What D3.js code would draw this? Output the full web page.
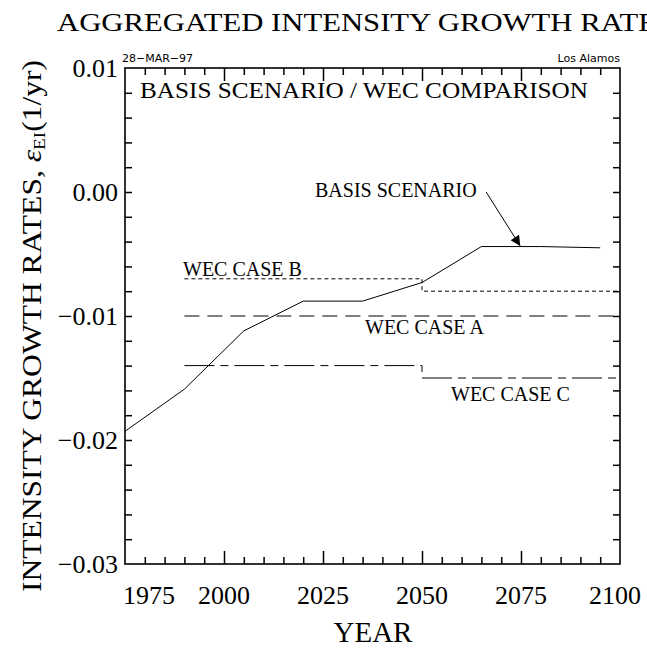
<!DOCTYPE html>
<html lang="en">
<head>
  <meta charset="UTF-8" />
  <title>Aggregated Intensity Growth Rates</title>
  <script src="https://d3js.org/d3.v7.min.js"></script>
  <style>
    body {
      margin: 0;
      padding: 0;
      background: #fff;
    }
    svg {
      display: block;
    }
    .serif {
      font-family: "Liberation Serif", "DejaVu Serif", serif;
      fill: #000;
    }
    .stamp {
      font-family: "DejaVu Sans", sans-serif;
      font-size: 11px;
      fill: #000;
    }
    .line {
      fill: none;
      stroke: #000;
      stroke-width: 1px;
    }
  </style>
</head>
<body>
  <svg width="647" height="648"></svg>
  <script>
    // basis scenario
    const years = [1975, 1990, 2005, 2020, 2035, 2050, 2065, 2080, 2095];
    const basis = [-0.0193, -0.0159, -0.0112, -0.0088, -0.0088, -0.0073, -0.0044, -0.0044, -0.0045];

    // WEC cases (step values)
    const wecYears = [1990, 2050, 2100];
    const caseA = [-0.0100, -0.0100, -0.0100];
    const caseB = [-0.0070, -0.0080, -0.0080];
    const caseC = [-0.0140, -0.0150, -0.0150];

    const xTickLabels = [1975, 2000, 2025, 2050, 2075, 2100];
    const yTickLabels = [0.01, 0.00, -0.01, -0.02, -0.03];

    const svg = d3.select("svg");
    const plot = { left: 125, right: 620, top: 68, bottom: 564 };

    const x = d3.scaleLinear().domain([1975, 2100]).range([plot.left, plot.right]);
    const y = d3.scaleLinear().domain([-0.03, 0.01]).range([plot.bottom, plot.top]);

    // frame
    svg.append("rect")
      .attr("x", plot.left).attr("y", plot.top)
      .attr("width", plot.right - plot.left).attr("height", plot.bottom - plot.top)
      .attr("fill", "none").attr("stroke", "#000").attr("stroke-width", 1.6);

    const minorX = d3.range(1980, 2100, 5).filter(d => d % 25 !== 0);
    const majorX = d3.range(2000, 2100, 25);
    const minorY = d3.range(-0.028, 0.0099, 0.002);

    function axisGroup(axis, transform) {
      const g = svg.append("g").attr("transform", transform).call(axis);
      g.select(".domain").remove();
      g.selectAll("line").attr("stroke-width", 1.5);
      g.selectAll("text").remove();
      return g;
    }

    // bottom + top ticks (inward)
    axisGroup(d3.axisBottom(x).tickValues(minorX).tickSize(-7), `translate(0,${plot.bottom})`);
    axisGroup(d3.axisBottom(x).tickValues(majorX).tickSize(-13), `translate(0,${plot.bottom})`);
    axisGroup(d3.axisTop(x).tickValues(minorX).tickSize(-7), `translate(0,${plot.top})`);
    axisGroup(d3.axisTop(x).tickValues(majorX).tickSize(-13), `translate(0,${plot.top})`);
    // left + right ticks
    axisGroup(d3.axisLeft(y).tickValues(minorY).tickSize(-7), `translate(${plot.left},0)`);
    axisGroup(d3.axisRight(y).tickValues(minorY).tickSize(-7), `translate(${plot.right},0)`);

    // x tick labels
    svg.selectAll(".xlab").data(xTickLabels).join("text")
      .attr("class", "serif xlab")
      .attr("font-size", 26)
      .attr("x", d => d === 1975 ? x(d) - 2 : d === 2100 ? x(d) + 21 : x(d))
      .attr("y", 604)
      .attr("text-anchor", d => d === 1975 ? "start" : d === 2100 ? "end" : "middle")
      .text(d => d);

    // y tick labels
    svg.selectAll(".ylab").data(yTickLabels).join("text")
      .attr("class", "serif ylab")
      .attr("font-size", 26)
      .attr("x", 118)
      .attr("y", d => y(d) + 9)
      .attr("text-anchor", "end")
      .text(d => d3.format(".2f")(d).replace("-", "\u2212"));

    // titles
    svg.append("text").attr("class", "serif")
      .attr("x", 57).attr("y", 31)
      .attr("font-size", 25)
      .attr("textLength", 617).attr("lengthAdjust", "spacingAndGlyphs")
      .text("AGGREGATED INTENSITY GROWTH RATES");

    svg.append("text").attr("class", "serif")
      .attr("x", 140).attr("y", 98)
      .attr("font-size", 23)
      .attr("textLength", 448).attr("lengthAdjust", "spacingAndGlyphs")
      .text("BASIS SCENARIO / WEC COMPARISON");

    svg.append("text").attr("class", "stamp")
      .attr("x", 122).attr("y", 62)
      .text("28\u2212MAR\u221297");
    svg.append("text").attr("class", "stamp")
      .attr("x", 620).attr("y", 62).attr("text-anchor", "end")
      .text("Los Alamos");

    svg.append("text").attr("class", "serif")
      .attr("x", 373).attr("y", 642)
      .attr("font-size", 29)
      .attr("text-anchor", "middle")
      .text("YEAR");

    const yt = svg.append("text").attr("class", "serif")
      .attr("transform", "translate(41,592) rotate(-90)")
      .attr("font-size", 28)
      .attr("textLength", 532).attr("lengthAdjust", "spacingAndGlyphs");
    yt.append("tspan").text("INTENSITY GROWTH RATES, ");
    yt.append("tspan").attr("font-style", "italic").text("\u03b5");
    yt.append("tspan").attr("font-size", 17).attr("dy", 4).text("EI");
    yt.append("tspan").attr("dy", -4).text("(1/yr)");

    // data lines
    const line = d3.line().x(d => x(d[0])).y(d => y(d[1]));
    const stepLine = d3.line().curve(d3.curveStepAfter).x(d => x(d[0])).y(d => y(d[1]));

    svg.append("path").attr("class", "line")
      .attr("d", line(d3.zip(years, basis)));

    svg.append("path").attr("class", "line")
      .attr("stroke-dasharray", "4,3")
      .attr("d", stepLine(d3.zip(wecYears, caseB)));
    svg.append("path").attr("class", "line")
      .attr("stroke-dasharray", "15,8")
      .attr("d", stepLine(d3.zip(wecYears, caseA)));
    svg.append("path").attr("class", "line")
      .attr("stroke-dasharray", "30,6,8,6")
      .attr("d", stepLine(d3.zip(wecYears, caseC)));

    // labels
    const lab = (t, xx, yy) => svg.append("text").attr("class", "serif")
      .attr("font-size", 20).attr("x", xx).attr("y", yy).text(t);
    lab("WEC CASE B", 183, 276);
    lab("WEC CASE A", 365, 334);
    lab("WEC CASE C", 451, 401);
    lab("BASIS SCENARIO", 315, 197);

    // arrow to basis scenario
    svg.append("defs").append("marker")
      .attr("id", "arr").attr("viewBox", "0 0 10 10")
      .attr("refX", 10).attr("refY", 5)
      .attr("markerWidth", 12).attr("markerHeight", 10)
      .attr("markerUnits", "userSpaceOnUse")
      .attr("orient", "auto")
      .append("path").attr("d", "M0,0 L10,5 L0,10 Z").attr("fill", "#000");

    svg.append("line")
      .attr("x1", x(2066.2)).attr("y1", y(0.0))
      .attr("x2", x(2074.8)).attr("y2", y(-0.00435))
      .attr("stroke", "#000").attr("stroke-width", 1)
      .attr("marker-end", "url(#arr)");
  </script>
</body>
</html>
